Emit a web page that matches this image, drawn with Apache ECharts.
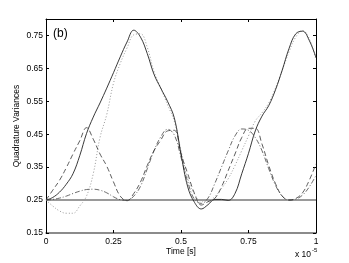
<!DOCTYPE html>
<html><head><meta charset="utf-8">
<script src="https://cdn.jsdelivr.net/npm/echarts@6/dist/echarts.min.js"></script>
<style>html,body{margin:0;padding:0;background:#fff}#c{width:349px;height:263px}</style>
</head><body><div id="c"></div>
<script>
// time in units of 1e-5 s
var timeValues = [0,0.025,0.05,0.075,0.1,0.125,0.15,0.175,0.2,0.225,0.25,0.275,0.3,0.325,0.35,0.375,0.4,0.425,0.45,0.475,0.5,0.525,0.55,0.575,0.6,0.625,0.65,0.675,0.7,0.725,0.75,0.775,0.8,0.825,0.85,0.875,0.9,0.925,0.95,0.975,1.0];
var solidValues = [0.250,0.258,0.274,0.298,0.330,0.385,0.452,0.502,0.545,0.590,0.637,0.685,0.730,0.766,0.745,0.695,0.632,0.590,0.550,0.500,0.390,0.290,0.243,0.223,0.236,0.252,0.252,0.249,0.270,0.330,0.392,0.460,0.505,0.537,0.585,0.645,0.710,0.755,0.763,0.735,0.683];
var dottedValues = [0.250,0.232,0.217,0.210,0.210,0.232,0.262,0.330,0.440,0.510,0.605,0.665,0.712,0.752,0.755,0.714,0.640,0.590,0.540,0.490,0.400,0.315,0.268,0.247,0.247,0.260,0.285,0.315,0.355,0.400,0.445,0.490,0.515,0.545,0.590,0.645,0.700,0.745,0.765,0.740,0.675];
var dashedValues = [0.250,0.280,0.310,0.348,0.390,0.430,0.470,0.435,0.390,0.353,0.305,0.262,0.248,0.270,0.305,0.355,0.400,0.432,0.460,0.462,0.390,0.330,0.270,0.235,0.245,0.255,0.290,0.340,0.390,0.440,0.468,0.468,0.420,0.355,0.300,0.262,0.250,0.255,0.272,0.310,0.360];
var dashDotValues = [0.250,0.252,0.256,0.262,0.270,0.277,0.282,0.283,0.280,0.272,0.260,0.251,0.249,0.262,0.292,0.345,0.400,0.442,0.465,0.448,0.380,0.305,0.252,0.240,0.256,0.300,0.350,0.400,0.445,0.466,0.462,0.440,0.400,0.345,0.295,0.262,0.250,0.253,0.265,0.290,0.325];
var baselineValue = 0.25;
var xTicks = [0,0.25,0.5,0.75,1];
var yTicks = [0.15,0.25,0.35,0.45,0.55,0.65,0.75];

function pairs(v){ return timeValues.map(function(t,i){ return [t, v[i]]; }); }
var FONT = 'Liberation Sans';
var chart = echarts.init(document.getElementById('c'), null, {renderer:'canvas'});
var tickStyle = {show:true, inside:true, length:3, lineStyle:{color:'#000', width:1}};
chart.setOption({
  animation:false,
  backgroundColor:'#fff',
  grid:{left:46, right:33, top:19, bottom:30, containLabel:false},
  xAxis:[{
    type:'value', min:0, max:1, interval:0.25,
    axisLine:{show:true, onZero:false, lineStyle:{color:'#666', width:1.5}},
    axisTick:tickStyle,
    axisLabel:{margin:4, fontSize:8.5, fontFamily:FONT, color:'#000',
      formatter:function(v){ return String(+v.toFixed(2)); }},
    splitLine:{show:false}
  },{
    type:'value', position:'top', min:0, max:1, interval:0.25,
    axisLine:{show:true, onZero:false, lineStyle:{color:'#000', width:1}},
    axisTick:tickStyle, axisLabel:{show:false}, splitLine:{show:false}
  }],
  yAxis:[{
    type:'value', min:0.15, max:0.8,
    axisLine:{show:true, onZero:false, lineStyle:{color:'#000', width:1}},
    axisTick:{show:true, inside:true, length:3, lineStyle:{color:'#000', width:1}, customValues:yTicks},
    axisLabel:{margin:3, fontSize:8.5, fontFamily:FONT, color:'#000', customValues:yTicks,
      formatter:function(v){ return (+v).toFixed(2); }},
    splitLine:{show:false}
  },{
    type:'value', position:'right', min:0.15, max:0.8,
    axisLine:{show:true, onZero:false, lineStyle:{color:'#000', width:1}},
    axisTick:{show:true, inside:true, length:3, lineStyle:{color:'#000', width:1}, customValues:yTicks},
    axisLabel:{show:false, customValues:yTicks}, splitLine:{show:false}
  }],
  series:[
    {type:'line', data:[[0,baselineValue],[1,baselineValue]], symbol:'none', lineStyle:{color:'#9a9a9a', width:2}, z:1},
    {type:'line', data:pairs(dottedValues), smooth:0.4, symbol:'none', lineStyle:{color:'#999', width:1, type:[1,2]}, z:2},
    {type:'line', data:pairs(dashDotValues), smooth:0.4, symbol:'none', lineStyle:{color:'#444', width:0.8, type:[5,2,1,2]}, z:3},
    {type:'line', data:pairs(dashedValues), smooth:0.4, symbol:'none', lineStyle:{color:'#333', width:0.8, type:[5,3]}, z:4},
    {type:'line', data:pairs(solidValues), smooth:0.4, symbol:'none', lineStyle:{color:'#222', width:0.9}, z:5}
  ],
  graphic:[
    {type:'text', left:53, top:28, style:{text:'(b)', fontSize:12, fontFamily:FONT, fill:'#000'}},
    {type:'text', x:17, y:126, rotation:Math.PI/2, style:{text:'Quadrature Variances', fontSize:8.5, fontFamily:FONT, fill:'#000', align:'center', verticalAlign:'middle'}},
    {type:'text', x:181, y:252, style:{text:'Time [s]', fontSize:8.5, fontFamily:FONT, fill:'#000', align:'center', verticalAlign:'middle'}},
    {type:'text', x:295, y:255, style:{text:'x 10', fontSize:8.5, fontFamily:FONT, fill:'#000', align:'left', verticalAlign:'middle'}},
    {type:'text', x:312, y:250, style:{text:'-5', fontSize:6, fontFamily:FONT, fill:'#000', align:'left', verticalAlign:'middle'}}
  ]
});
</script></body></html>
